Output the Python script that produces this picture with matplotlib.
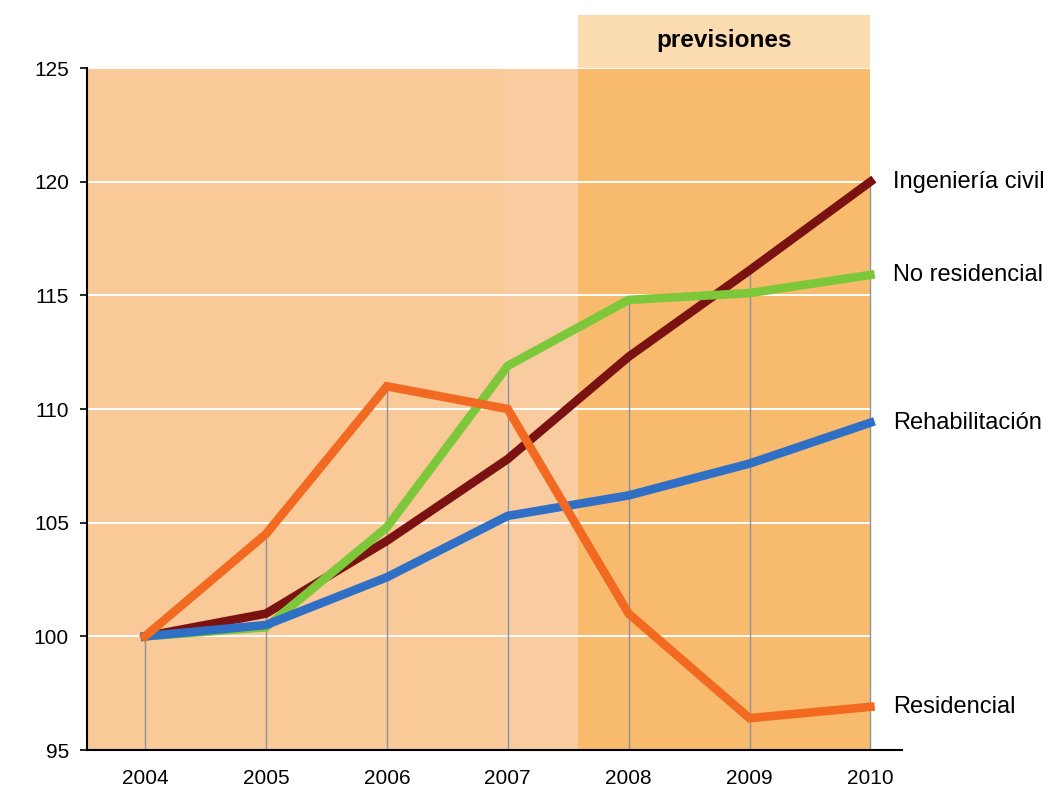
import numpy as np
import matplotlib.pyplot as plt
from matplotlib.patches import Rectangle

# datos (indice 2004 = 100)
years = [2004, 2005, 2006, 2007, 2008, 2009, 2010]
ingenieria_civil = [100, 101.0, 104.2, 107.8, 112.3, 116.1, 120.0]
no_residencial = [100, 100.4, 104.8, 111.9, 114.8, 115.1, 115.9]
rehabilitacion = [100, 100.5, 102.6, 105.3, 106.2, 107.6, 109.4]
residencial = [100, 104.5, 111.0, 110.0, 101.0, 96.4, 96.9]

series_names = ["Ingeniería civil", "No residencial", "Rehabilitación", "Residencial"]
y_ticks = [95, 100, 105, 110, 115, 120, 125]
forecast_start = 2007.58
header_text = "previsiones"

colors = ["#7a1212", "#7cc83a", "#2f6fc6", "#f26a22"]

fig = plt.figure(figsize=(10.61, 7.93), dpi=100)
ax = fig.add_axes([0.082, 0.0542, 0.768, 0.8600])

x0, x1 = 2003.52, 2010.26
ax.set_xlim(x0, x1)
ax.set_ylim(95, 125)

# fondos
ax.axvspan(x0, forecast_start, color="#f9c998", zorder=0, lw=0)
ax.axvspan(2006.97, forecast_start, color="#f9cca0", zorder=0, lw=0)
ax.axvspan(forecast_start, years[-1], color="#f8ba6c", zorder=0, lw=0)

# cabecera "previsiones"
hdr = Rectangle((forecast_start, 125), years[-1] - forecast_start, 2.33,
                facecolor="#fadcb0", edgecolor="none", clip_on=False, zorder=0)
ax.add_patch(hdr)
ax.text((forecast_start + years[-1]) / 2, 126.2, header_text, ha="center", va="center",
        fontsize=17.5, fontweight="bold", family=["Liberation Sans", "DejaVu Sans"])

# rejilla horizontal blanca
for yv in y_ticks[1:]:
    ax.axhline(yv, color="white", lw=1.4, zorder=1)

# lineas de caida desde el maximo
all_series = [ingenieria_civil, no_residencial, rehabilitacion, residencial]
tops = np.max(np.array(all_series), axis=0)
ax.vlines(years, 95, tops, colors="#8c919c", lw=1.0, zorder=2)

for vals, c in zip(all_series, colors):
    ax.plot(years, vals, color=c, lw=6.2, solid_joinstyle="miter", zorder=3)

# etiquetas a la derecha
for name, vals in zip(series_names, all_series):
    ax.text(0.989, vals[-1], name, transform=ax.get_yaxis_transform(),
            ha="left", va="center", fontsize=17,
            family=["Liberation Sans", "DejaVu Sans"], clip_on=False)

for s in ["top", "right"]:
    ax.spines[s].set_visible(False)
ax.spines["left"].set_linewidth(1.5)
ax.spines["bottom"].set_linewidth(1.5)

ax.set_yticks(y_ticks)
ax.set_xticks(years)
ax.set_xticklabels([str(y) for y in years])
ax.tick_params(axis="y", length=5, width=1.2, labelsize=15, pad=8)
ax.tick_params(axis="x", length=0, labelsize=15, pad=14)
for lab in ax.get_xticklabels() + ax.get_yticklabels():
    lab.set_family(["Liberation Sans", "DejaVu Sans"])

fig.savefig("out.png", dpi=100)
